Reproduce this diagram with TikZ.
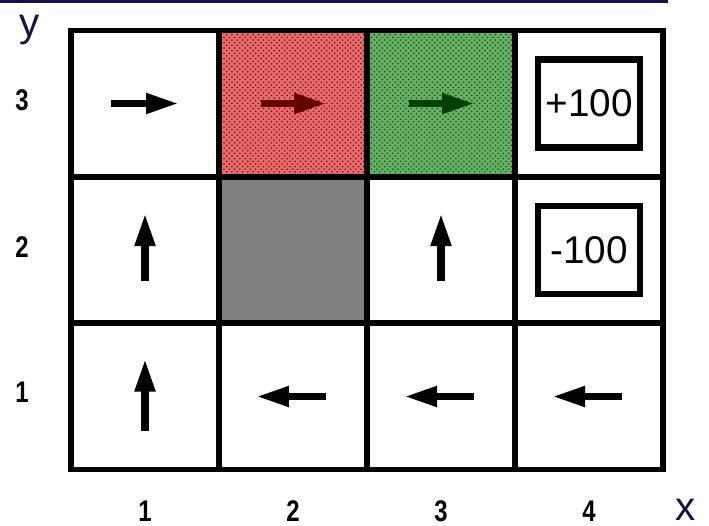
\documentclass[tikz,border=0pt]{standalone}
\usepackage{fontspec}
\setmainfont{Liberation Sans}
\newfontfamily\narrowfont[FakeStretch=0.8]{Liberation Sans}
\usetikzlibrary{arrows.meta,calc,backgrounds,patterns}

\definecolor{navy}{RGB}{20,20,70}
\definecolor{redcell}{RGB}{228,110,110}
\definecolor{greencell}{RGB}{105,175,105}
\definecolor{wallgray}{RGB}{128,128,128}

\begin{document}
\begin{tikzpicture}[x=0.02cm, y=-0.02cm,
    cell/.style={rectangle, draw, line width=0.11cm, minimum width=2.96cm, minimum height=2.93cm, inner sep=0, outer sep=0},
    reward/.style={rectangle, draw, line width=0.13cm, minimum width=2.04cm, minimum height=1.76cm, inner sep=0, font=\fontsize{22}{22}\selectfont},
    act/.style={line width=0.15cm, -{Triangle[length=0.66cm, width=0.38cm]}},
    axisnum/.style={font=\narrowfont\bfseries\fontsize{17}{17}\selectfont},
    axisname/.style={text=navy, inner sep=1pt, font=\fontsize{23}{23}\selectfont}
]
\useasboundingbox (0,0) rectangle (709,525);
\fill[navy] (0,0) rectangle (668,3);

% grid cells
\foreach \i/\cx in {1/145, 2/293, 3/441, 4/589}
  \foreach \j/\cy in {1/396.5, 2/250, 3/103.5}
    \node[cell] (c\i\j) at (\cx,\cy) {};

\begin{scope}[on background layer]
\fill[redcell] (c23.north west) rectangle (c23.south east);
\fill[pattern=crosshatch dots, pattern color=red!55!black] (c23.north west) rectangle (c23.south east);
\fill[greencell] (c33.north west) rectangle (c33.south east);
\fill[pattern=crosshatch dots, pattern color=green!35!black] (c33.north west) rectangle (c33.south east);
\fill[wallgray] (c22.north west) rectangle (c22.south east);
\end{scope}

\node[reward] (r43) at (c43) {+100};
\node[reward] (r42) at (c42) {-100};

% policy arrows
\draw[act] ($(c13)+(-34,0)$) -- ($(c13)+(34,0)$);
\draw[act, red!40!black] ($(c23)+(-32,0)$) -- ($(c23)+(34,0)$);
\draw[act, green!25!black] ($(c33)+(-32,0)$) -- ($(c33)+(34,0)$);
\draw[act] ($(c12)+(0,31)$) -- ($(c12)+(0,-37)$);
\draw[act] ($(c32)+(0,31)$) -- ($(c32)+(0,-37)$);
\draw[act] ($(c11)+(0,34)$) -- ($(c11)+(0,-38)$);
\draw[act] ($(c21)+(33,0)$) -- ($(c21)+(-37,0)$);
\draw[act] ($(c31)+(33,0)$) -- ($(c31)+(-37,0)$);
\draw[act] ($(c41)+(33,0)$) -- ($(c41)+(-37,0)$);

% axes
\node[axisnum] (y3) at (22,100) {3};
\node[axisnum] (y2) at (22,247) {2};
\node[axisnum] (y1) at (22,392) {1};
\node[axisnum] (x1) at (145,511) {1};
\node[axisnum] (x2) at (293,511) {2};
\node[axisnum] (x3) at (441,511) {3};
\node[axisnum] (x4) at (589,511) {4};
\node[axisname] (ylab) at (30,30) {y};
\node[axisname] (xlab) at (686,510) {x};

\end{tikzpicture}
\end{document}
